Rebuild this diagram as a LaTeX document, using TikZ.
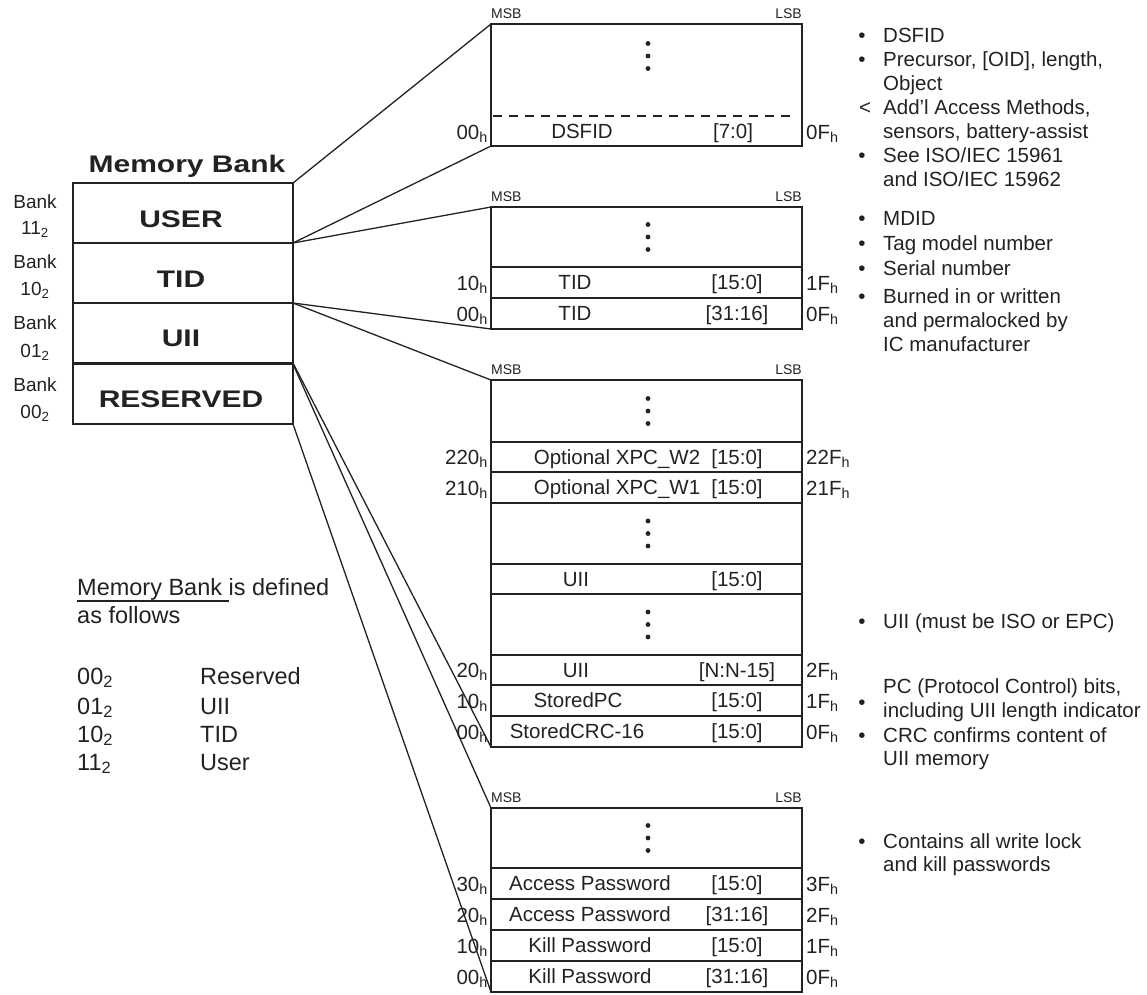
\documentclass[tikz,border=0pt]{standalone}
\usepackage{fontspec}
\setmainfont{Liberation Sans}
\newfontfamily\widesans[FakeStretch=1.25]{Liberation Sans}
\usetikzlibrary{calc}
\definecolor{ink}{RGB}{34,34,34}
\newcommand\hx[1]{#1\textsubscript{h}}
\newcommand\bx[1]{#1\textsubscript{2}}
% three stacked dots marking omitted words
\newcommand\dotcol[1]{\foreach \dy in {-12.5,0,12.5}{\fill[ink] ($(#1)+(1.5,\dy)$) circle[radius=2.4pt];}}
% field name and bit range inside one word row
\newcommand\rowtext[4]{%
  \node[fld] at ($(#1.west)+(#2,0)$) {#3};
  \node[fld] at ($(#1.west)+(246,0)$) {#4};}
% word addresses on both sides of a row
\newcommand\rowaddr[3]{%
  \node[addrL] at ($(#1.south west)+(-3,-8)$) {#2};
  \node[addrR] at ($(#1.south east)+(4,-8)$) {#3};}
% MSB / LSB markers above a block
\newcommand\msblsb[1]{%
  \node[msb,anchor=base west] at ($(#1.north west)+(0,-6)$) {MSB};
  \node[msb,anchor=base east] at ($(#1.north east)+(0,-6)$) {LSB};}
\begin{document}
\begin{tikzpicture}[x=1pt,y=-1pt,
  frame/.style={draw=ink,line width=1.6pt,rectangle,inner sep=0pt,outer sep=0pt,anchor=north west},
  bankcell/.style={frame,minimum width=220pt,minimum height=60pt},
  cell/.style={frame,minimum width=311pt},
  conn/.style={draw=ink,line width=1.3pt},
  txt/.style={text=ink,inner sep=0pt,font=\fontsize{20.5}{24}\selectfont},
  fld/.style={txt,text height=15pt,text depth=1pt},
  addrL/.style={txt,anchor=base east},
  addrR/.style={txt,anchor=base west},
  note/.style={txt,anchor=base west},
  bul/.style={txt,anchor=base},
  msb/.style={text=ink,inner sep=0pt,font=\fontsize{14}{16}\selectfont},
  bigb/.style={text=ink,inner sep=0pt,anchor=base,font=\widesans\bfseries\fontsize{24}{28}\selectfont},
  banklbl/.style={text=ink,inner sep=0pt,anchor=base,font=\fontsize{19}{22}\selectfont},
  legend/.style={text=ink,inner sep=0pt,anchor=base west,font=\fontsize{23.5}{28}\selectfont}
]
\useasboundingbox (0,0) rectangle (1147,994);

% ---------- memory bank stack ----------
\node[bigb] (ttl) at (187,172) {Memory Bank};
\node[bankcell] (user) at (73,183) {};
\node[bankcell] (tid)  at (73,243) {};
\node[bankcell] (uii)  at (73,303) {};
\node[bankcell] (res)  at (73,364) {};
\node[bigb] (userl) at (181,227) {USER};
\node[bigb] (tidl)  at (181,287) {TID};
\node[bigb] (uiil)  at (181,346) {UII};
\node[bigb] (resl)  at (181,407) {RESERVED};
\node[banklbl] (b3a) at (35,208) {Bank};
\node[banklbl] (b3b) at (35,234) {\bx{11}};
\node[banklbl] (b2a) at (35,268) {Bank};
\node[banklbl] (b2b) at (35,295) {\bx{10}};
\node[banklbl] (b1a) at (35,329) {Bank};
\node[banklbl] (b1b) at (35,357) {\bx{01}};
\node[banklbl] (b0a) at (35,391) {Bank};
\node[banklbl] (b0b) at (35,418) {\bx{00}};

% ---------- USER bank ----------
\node[cell,minimum height=122pt] (ublk) at (491,24) {};
\msblsb{ublk}
\draw[ink,line width=1.4pt,dash pattern=on 9pt off 7pt]
  ($(ublk.south west)+(2,-30)$) -- ($(ublk.south east)+(-10,-30)$);
\coordinate (udots) at ($(ublk.north)+(0,32)$);
\dotcol{udots}
\coordinate (dsrow) at ($(ublk.south west)+(0,-15)$);
\node[fld] (dsfid) at ($(dsrow)+(91,0)$) {DSFID};
\node[fld] (dsbits) at ($(dsrow)+(242,0)$) {[7:0]};
\node[addrL] at ($(ublk.south west)+(-3,-7)$) {\hx{00}};
\node[addrR] at ($(ublk.south east)+(4,-7)$) {\hx{0F}};

% ---------- TID bank ----------
\node[cell,minimum height=60pt] (ttop) at (491,207) {};
\node[cell,minimum height=31pt] (t1) at (491,267) {};
\node[cell,minimum height=31pt] (t2) at (491,298) {};
\msblsb{ttop}
\dotcol{ttop.center}
\rowtext{t1}{84}{TID}{[15:0]}
\rowtext{t2}{84}{TID}{[31:16]}
\rowaddr{t1}{\hx{10}}{\hx{1F}}
\rowaddr{t2}{\hx{00}}{\hx{0F}}

% ---------- UII bank ----------
\node[cell,minimum height=62pt] (u0) at (491,380) {};
\node[cell,minimum height=30pt] (u1) at (491,442) {};
\node[cell,minimum height=31pt] (u2) at (491,472) {};
\node[cell,minimum height=61pt] (u3) at (491,503) {};
\node[cell,minimum height=30pt] (u4) at (491,564) {};
\node[cell,minimum height=61pt] (u5) at (491,594) {};
\node[cell,minimum height=30pt] (u6) at (491,655) {};
\node[cell,minimum height=31pt] (u7) at (491,685) {};
\node[cell,minimum height=31pt] (u8) at (491,716) {};
\msblsb{u0}
\dotcol{u0.center}
\dotcol{u3.center}
\dotcol{u5.center}
\rowtext{u1}{126}{Optional XPC\_W2}{[15:0]}
\rowtext{u2}{126}{Optional XPC\_W1}{[15:0]}
\rowtext{u4}{85}{UII}{[15:0]}
\rowtext{u6}{85}{UII}{[N:N-15]}
\rowtext{u7}{87}{StoredPC}{[15:0]}
\rowtext{u8}{86}{StoredCRC-16}{[15:0]}
\rowaddr{u1}{\hx{220}}{\hx{22F}}
\rowaddr{u2}{\hx{210}}{\hx{21F}}
\rowaddr{u6}{\hx{20}}{\hx{2F}}
\rowaddr{u7}{\hx{10}}{\hx{1F}}
\rowaddr{u8}{\hx{00}}{\hx{0F}}

% ---------- RESERVED bank ----------
\node[cell,minimum height=60pt] (r0) at (491,808) {};
\node[cell,minimum height=31pt] (r1) at (491,868) {};
\node[cell,minimum height=31pt] (r2) at (491,899) {};
\node[cell,minimum height=31pt] (r3) at (491,930) {};
\node[cell,minimum height=31pt] (r4) at (491,961) {};
\msblsb{r0}
\dotcol{r0.center}
\rowtext{r1}{99}{Access Password}{[15:0]}
\rowtext{r2}{99}{Access Password}{[31:16]}
\rowtext{r3}{99}{Kill Password}{[15:0]}
\rowtext{r4}{99}{Kill Password}{[31:16]}
\rowaddr{r1}{\hx{30}}{\hx{3F}}
\rowaddr{r2}{\hx{20}}{\hx{2F}}
\rowaddr{r3}{\hx{10}}{\hx{1F}}
\rowaddr{r4}{\hx{00}}{\hx{0F}}

% ---------- fan-out connectors ----------
\draw[conn] (user.north east) -- (ublk.north west);
\draw[conn] (user.south east) -- (ublk.south west);
\draw[conn] (tid.north east) -- (ttop.north west);
\draw[conn] (tid.south east) -- (t2.south west);
\draw[conn] (uii.north east) -- (u0.north west);
\draw[conn] (uii.south east) -- (u8.south west);
\draw[conn] (res.north east) -- (r0.north west);
\draw[conn] (res.south east) -- (r4.south west);

% ---------- notes: USER ----------
\node[bul] at (862,42) {\textbullet};
\node[note] (nu1) at (883,42) {DSFID};
\node[bul] at (862,66) {\textbullet};
\node[note] (nu2) at (883,66) {Precursor, [OID], length,};
\node[note] (nu3) at (883,90) {Object};
\node[bul] at (865,114) {<};
\node[note] (nu4) at (883,114) {Add'l Access Methods,};
\node[note] (nu5) at (883,138) {sensors, battery-assist};
\node[bul] at (862,162) {\textbullet};
\node[note] (nu6) at (883,162) {See ISO/IEC 15961};
\node[note] (nu7) at (883,186) {and ISO/IEC 15962};

% ---------- notes: TID ----------
\node[bul] at (862,225) {\textbullet};
\node[note] (nt1) at (883,225) {MDID};
\node[bul] at (862,250) {\textbullet};
\node[note] (nt2) at (883,250) {Tag model number};
\node[bul] at (862,275) {\textbullet};
\node[note] (nt3) at (883,275) {Serial number};
\node[bul] at (862,303) {\textbullet};
\node[note] (nt4) at (883,303) {Burned in or written};
\node[note] (nt5) at (883,327) {and permalocked by};
\node[note] (nt6) at (883,351) {IC manufacturer};

% ---------- notes: UII ----------
\node[bul] at (862,628) {\textbullet};
\node[note] (nx1) at (883,628) {UII (must be ISO or EPC)};
\node[note] (nx2) at (883,693) {PC (Protocol Control) bits,};
\node[bul] at (862,709) {\textbullet};
\node[note] (nx3) at (883,717) {including UII length indicator};
\node[bul] at (862,742) {\textbullet};
\node[note] (nx4) at (883,742) {CRC confirms content of};
\node[note] (nx5) at (883,765) {UII memory};

% ---------- notes: RESERVED ----------
\node[bul] at (862,848) {\textbullet};
\node[note] (nr1) at (883,848) {Contains all write lock};
\node[note] (nr2) at (883,871) {and kill passwords};

% ---------- legend ----------
\node[legend] (lg1) at (77,595) {Memory Bank is defined};
\draw[ink,line width=1.5pt] (77,601) -- (229,601);
\node[legend] (lg2) at (77,623) {as follows};
\node[legend] (c00) at (77,684) {\bx{00}};
\node[legend] (c01) at (77,714) {\bx{01}};
\node[legend] (c10) at (77,742) {\bx{10}};
\node[legend] (c11) at (77,770) {\bx{11}};
\node[legend] (m00) at (200,684) {Reserved};
\node[legend] (m01) at (200,714) {UII};
\node[legend] (m10) at (200,742) {TID};
\node[legend] (m11) at (200,770) {User};
\end{tikzpicture}
\end{document}
